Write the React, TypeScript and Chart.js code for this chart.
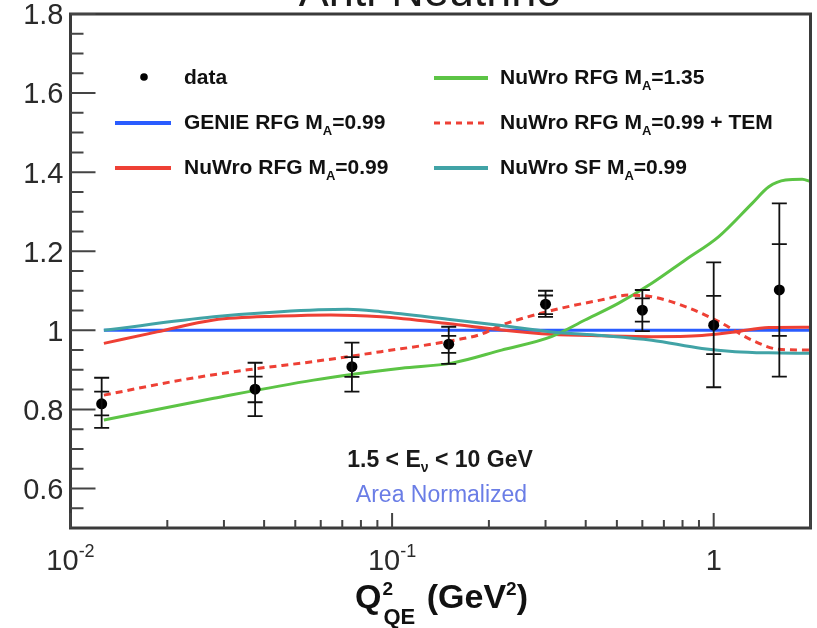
import React, { useEffect, useRef } from "react";
import { Chart, registerables } from "chart.js";

Chart.register(...registerables);

const FONT = "'Liberation Sans', Arial, Helvetica, sans-serif";

// ---------------- data ----------------
const dataQ2 = [0.0125, 0.0375, 0.075, 0.15, 0.3, 0.6, 1.0, 1.6];
const dataVal = [0.814, 0.851, 0.908, 0.965, 1.066, 1.051, 1.013, 1.102];
const statLow = [0.785, 0.818, 0.882, 0.943, 1.041, 1.022, 0.94, 0.986];
const statHigh = [0.845, 0.883, 0.932, 0.986, 1.088, 1.081, 1.087, 1.218];
const totLow = [0.753, 0.783, 0.845, 0.915, 1.034, 0.998, 0.856, 0.883];
const totHigh = [0.88, 0.918, 0.969, 1.009, 1.1, 1.102, 1.172, 1.321];

const genieQ2 = [0.0127, 0.05, 0.2, 1.0, 2.0];
const genieVal = [1.0, 1.0, 1.0, 1.0, 1.0];

const rfgQ2 = [0.0127, 0.0186, 0.0279, 0.045, 0.0645, 0.0924, 0.149, 0.219, 0.313, 0.448, 0.642, 0.919, 1.166, 1.484, 2.0];
const rfgVal = [0.967, 0.996, 1.026, 1.036, 1.039, 1.034, 1.017, 1.001, 0.99, 0.986, 0.984, 0.987, 0.996, 1.007, 1.008];

const sfQ2 = [0.0127, 0.0279, 0.045, 0.0727, 0.0924, 0.149, 0.219, 0.313, 0.448, 0.642, 0.919, 1.166, 1.484, 2.0];
const sfVal = [1.0, 1.034, 1.047, 1.053, 1.047, 1.028, 1.012, 0.996, 0.987, 0.975, 0.954, 0.946, 0.943, 0.942];

const temQ2 = [0.0127, 0.022, 0.0355, 0.057, 0.0924, 0.149, 0.189, 0.219, 0.313, 0.448, 0.543, 0.642, 0.816, 1.037, 1.317, 1.595, 2.0];
const temVal = [0.836, 0.874, 0.9, 0.921, 0.946, 0.972, 0.99, 1.013, 1.05, 1.077, 1.089, 1.085, 1.06, 1.022, 0.975, 0.952, 0.95];

const ma135Q2 = [0.0127, 0.0279, 0.057, 0.107, 0.153, 0.219, 0.313, 0.398, 0.505, 0.642, 0.816, 1.037, 1.317, 1.484, 1.673, 1.885, 2.0];
const ma135Val = [0.773, 0.828, 0.874, 0.904, 0.917, 0.95, 0.984, 1.026, 1.068, 1.119, 1.178, 1.237, 1.321, 1.363, 1.38, 1.382, 1.376];

// ---------------- axes / ticks ----------------
const xMin = 0.01;
const xMax = 2;
const yMin = 0.5;
const yMax = 1.8;
const yTickValues = [0.6, 0.8, 1.0, 1.2, 1.4, 1.6, 1.8];
const yTickLabels = ["0.6", "0.8", "1", "1.2", "1.4", "1.6", "1.8"];
const xTickValues = [0.01, 0.1, 1];
const xTickBases = ["10", "10", "1"];
const xTickExps = ["-2", "-1", ""];

const titleText = "Anti-Neutrino";
const energyPre = "1.5 < E";
const energySub = "\u03bd";
const energyPost = " < 10 GeV";
const normText = "Area Normalized";

const COL_BLUE = "#2a5cff";
const COL_RED = "#ee4035";
const COL_GREEN = "#5cc445";
const COL_TEAL = "#41a3a6";

type Piece = { t: string; font: string; dy: number };

const legendEntries: { kind: string; color: string; col: number; row: number; pre: string; sub: string; post: string }[] = [
  { kind: "dot", color: "#000", col: 0, row: 0, pre: "data", sub: "", post: "" },
  { kind: "line", color: COL_BLUE, col: 0, row: 1, pre: "GENIE RFG M", sub: "A", post: "=0.99" },
  { kind: "line", color: COL_RED, col: 0, row: 2, pre: "NuWro RFG M", sub: "A", post: "=0.99" },
  { kind: "line", color: COL_GREEN, col: 1, row: 0, pre: "NuWro RFG M", sub: "A", post: "=1.35" },
  { kind: "dash", color: COL_RED, col: 1, row: 1, pre: "NuWro RFG M", sub: "A", post: "=0.99 + TEM" },
  { kind: "line", color: COL_TEAL, col: 1, row: 2, pre: "NuWro SF M", sub: "A", post: "=0.99" },
];

function pts(xs: number[], ys: number[]) {
  return xs.map((x, i) => ({ x, y: ys[i] }));
}

function widthOf(ctx: CanvasRenderingContext2D, pieces: Piece[]) {
  let w = 0;
  for (const p of pieces) {
    ctx.font = p.font;
    w += ctx.measureText(p.t).width;
  }
  return w;
}

function drawPieces(ctx: CanvasRenderingContext2D, x: number, baseline: number, pieces: Piece[]) {
  let cx = x;
  for (const p of pieces) {
    ctx.font = p.font;
    ctx.fillText(p.t, cx, baseline + p.dy);
    cx += ctx.measureText(p.t).width;
  }
  return cx;
}

const decorPlugin = {
  id: "rootDecor",
  afterDatasetsDraw(chart: any) {
    const ctx: CanvasRenderingContext2D = chart.ctx;
    const xs = chart.scales.x;
    const ys = chart.scales.y;
    ctx.save();
    // error bars
    ctx.strokeStyle = "#111";
    ctx.lineWidth = 1.8;
    const cap = 7.5;
    dataQ2.forEach((q, i) => {
      const px = xs.getPixelForValue(q);
      const yTop = ys.getPixelForValue(totHigh[i]);
      const yBot = ys.getPixelForValue(totLow[i]);
      ctx.beginPath();
      ctx.moveTo(px, yTop);
      ctx.lineTo(px, yBot);
      [totHigh[i], totLow[i], statHigh[i], statLow[i]].forEach((v) => {
        const py = ys.getPixelForValue(v);
        ctx.moveTo(px - cap, py);
        ctx.lineTo(px + cap, py);
      });
      ctx.stroke();
    });
    ctx.restore();
  },
  afterDraw(chart: any) {
    const ctx: CanvasRenderingContext2D = chart.ctx;
    const xs = chart.scales.x;
    const ys = chart.scales.y;
    const a = chart.chartArea;
    ctx.save();

    // frame
    ctx.strokeStyle = "#3a3a3a";
    ctx.lineWidth = 3;
    ctx.strokeRect(a.left, a.top, a.right - a.left, a.bottom - a.top);

    // y ticks
    ctx.strokeStyle = "#444";
    ctx.lineWidth = 2;
    ctx.beginPath();
    for (let i = 11; i <= 36; i++) {
      const v = i * 0.05;
      const py = ys.getPixelForValue(v);
      const len = i % 4 === 0 ? 25 : 13;
      ctx.moveTo(a.left, py);
      ctx.lineTo(a.left + len, py);
    }
    // x ticks
    for (let e = -2; e <= 0; e++) {
      for (let k = 1; k <= 9; k++) {
        const v = k * Math.pow(10, e);
        if (v > xMax * 1.0001 || v < xMin * 0.9999) continue;
        const px = xs.getPixelForValue(v);
        const len = k === 1 ? 15 : 8;
        ctx.moveTo(px, a.bottom);
        ctx.lineTo(px, a.bottom - len);
      }
    }
    ctx.stroke();

    // y labels
    ctx.fillStyle = "#2a2a2a";
    ctx.font = `29px ${FONT}`;
    ctx.textAlign = "right";
    ctx.textBaseline = "alphabetic";
    yTickValues.forEach((v, i) => {
      const py = ys.getPixelForValue(v);
      ctx.fillText(yTickLabels[i], a.left - 7, py + 10.4);
    });

    // x labels
    ctx.textAlign = "left";
    xTickValues.forEach((v, i) => {
      const px = xs.getPixelForValue(v);
      const pieces: Piece[] = [{ t: xTickBases[i], font: `29px ${FONT}`, dy: 0 }];
      if (xTickExps[i]) pieces.push({ t: xTickExps[i], font: `18px ${FONT}`, dy: -13 });
      const w = widthOf(ctx, pieces);
      drawPieces(ctx, px - w / 2, 570, pieces);
    });

    // axis title Q^2_QE (GeV^2)
    ctx.fillStyle = "#111";
    {
      const big = `bold 34px ${FONT}`;
      const sup = `bold 19px ${FONT}`;
      const sub = `bold 22px ${FONT}`;
      ctx.font = big;
      const wQ = ctx.measureText("Q").width;
      ctx.font = sup;
      const w2 = ctx.measureText("2").width;
      ctx.font = sub;
      const wQE = ctx.measureText("QE").width;
      const rest: Piece[] = [
        { t: " (GeV", font: big, dy: 0 },
        { t: "2", font: sup, dy: -13 },
        { t: ")", font: big, dy: 0 },
      ];
      const wRest = widthOf(ctx, rest);
      const total = wQ + Math.max(w2, wQE) + 4 + wRest;
      let x0 = 441.5 - total / 2;
      const base = 608;
      ctx.font = big;
      ctx.fillText("Q", x0, base);
      ctx.font = sup;
      ctx.fillText("2", x0 + wQ + 1, base - 13);
      ctx.font = sub;
      ctx.fillText("QE", x0 + wQ + 2, base + 16);
      drawPieces(ctx, x0 + wQ + Math.max(w2, wQE) + 4, base, rest);
    }

    // energy annotation
    {
      const pieces: Piece[] = [
        { t: energyPre, font: `bold 23px ${FONT}`, dy: 0 },
        { t: energySub, font: `bold 14px ${FONT}`, dy: 5 },
        { t: energyPost, font: `bold 23px ${FONT}`, dy: 0 },
      ];
      const w = widthOf(ctx, pieces);
      ctx.fillStyle = "#1a1a1a";
      drawPieces(ctx, 440 - w / 2, 466.5, pieces);
    }
    // Area Normalized
    ctx.fillStyle = "#6a7de6";
    ctx.font = `23px ${FONT}`;
    ctx.textAlign = "center";
    ctx.fillText(normText, 441.5, 501.5);
    ctx.textAlign = "left";

    // legend
    const rowY = [76, 121, 166];
    const colLine = [
      [115, 171],
      [434, 488],
    ];
    const colText = [184, 500];
    legendEntries.forEach((e) => {
      const cy = rowY[e.row];
      const [l0, l1] = colLine[e.col];
      if (e.kind === "dot") {
        ctx.fillStyle = "#000";
        ctx.beginPath();
        ctx.arc(144, cy + 1, 3.8, 0, Math.PI * 2);
        ctx.fill();
      } else {
        ctx.strokeStyle = e.color;
        ctx.lineWidth = e.kind === "dash" ? 3 : 4;
        ctx.setLineDash(e.kind === "dash" ? [6, 5] : []);
        ctx.beginPath();
        ctx.moveTo(l0, cy + 2);
        ctx.lineTo(l1, cy + 2);
        ctx.stroke();
        ctx.setLineDash([]);
      }
      ctx.fillStyle = "#111";
      const pieces: Piece[] = [{ t: e.pre, font: `bold 21px ${FONT}`, dy: 0 }];
      if (e.sub) pieces.push({ t: e.sub, font: `bold 13px ${FONT}`, dy: 6 });
      if (e.post) pieces.push({ t: e.post, font: `bold 21px ${FONT}`, dy: 0 });
      drawPieces(ctx, colText[e.col], cy + 7.5, pieces);
    });

    // title (cut off at top)
    ctx.fillStyle = "#1a1a1a";
    ctx.font = `45px ${FONT}`;
    ctx.textAlign = "center";
    ctx.fillText(titleText, 430, 6);

    ctx.restore();
  },
};

export default function App() {
  const canvasRef = useRef<HTMLCanvasElement | null>(null);

  useEffect(() => {
    if (!canvasRef.current) return;
    const chart = new Chart(canvasRef.current, {
      type: "line",
      data: {
        datasets: [
          {
            label: "data",
            data: pts(dataQ2, dataVal),
            showLine: false,
            pointRadius: 5.5,
            pointBackgroundColor: "#000",
            pointBorderColor: "#000",
            pointBorderWidth: 0,
            order: 0,
          },
          {
            label: "NuWro SF MA=0.99",
            data: pts(sfQ2, sfVal),
            borderColor: COL_TEAL,
            borderWidth: 3,
            pointRadius: 0,
            cubicInterpolationMode: "monotone",
            order: 1,
          },
          {
            label: "NuWro RFG MA=0.99 + TEM",
            data: pts(temQ2, temVal),
            borderColor: COL_RED,
            borderWidth: 3,
            borderDash: [7, 5],
            pointRadius: 0,
            cubicInterpolationMode: "monotone",
            order: 2,
          },
          {
            label: "NuWro RFG MA=1.35",
            data: pts(ma135Q2, ma135Val),
            borderColor: COL_GREEN,
            borderWidth: 3,
            pointRadius: 0,
            cubicInterpolationMode: "monotone",
            order: 3,
          },
          {
            label: "NuWro RFG MA=0.99",
            data: pts(rfgQ2, rfgVal),
            borderColor: COL_RED,
            borderWidth: 3,
            pointRadius: 0,
            cubicInterpolationMode: "monotone",
            order: 4,
          },
          {
            label: "GENIE RFG MA=0.99",
            data: pts(genieQ2, genieVal),
            borderColor: COL_BLUE,
            borderWidth: 3,
            pointRadius: 0,
            order: 5,
          },
        ],
      },
      options: {
        animation: false,
        responsive: false,
        devicePixelRatio: 1,
        events: [],
        layout: { padding: { left: 70.5, right: 6.5, top: 14, bottom: 100 } },
        scales: {
          x: { type: "logarithmic", min: xMin, max: xMax, display: false },
          y: { type: "linear", min: yMin, max: yMax, display: false },
        },
        plugins: {
          legend: { display: false },
          tooltip: { enabled: false },
        },
      },
      plugins: [decorPlugin],
    } as any);
    return () => chart.destroy();
  }, []);

  return (
    <div style={{ position: "absolute", left: 0, top: 0, width: 817, height: 628, background: "#fff" }}>
      <canvas ref={canvasRef} width={817} height={628} style={{ display: "block", width: 817, height: 628 }} />
    </div>
  );
}
